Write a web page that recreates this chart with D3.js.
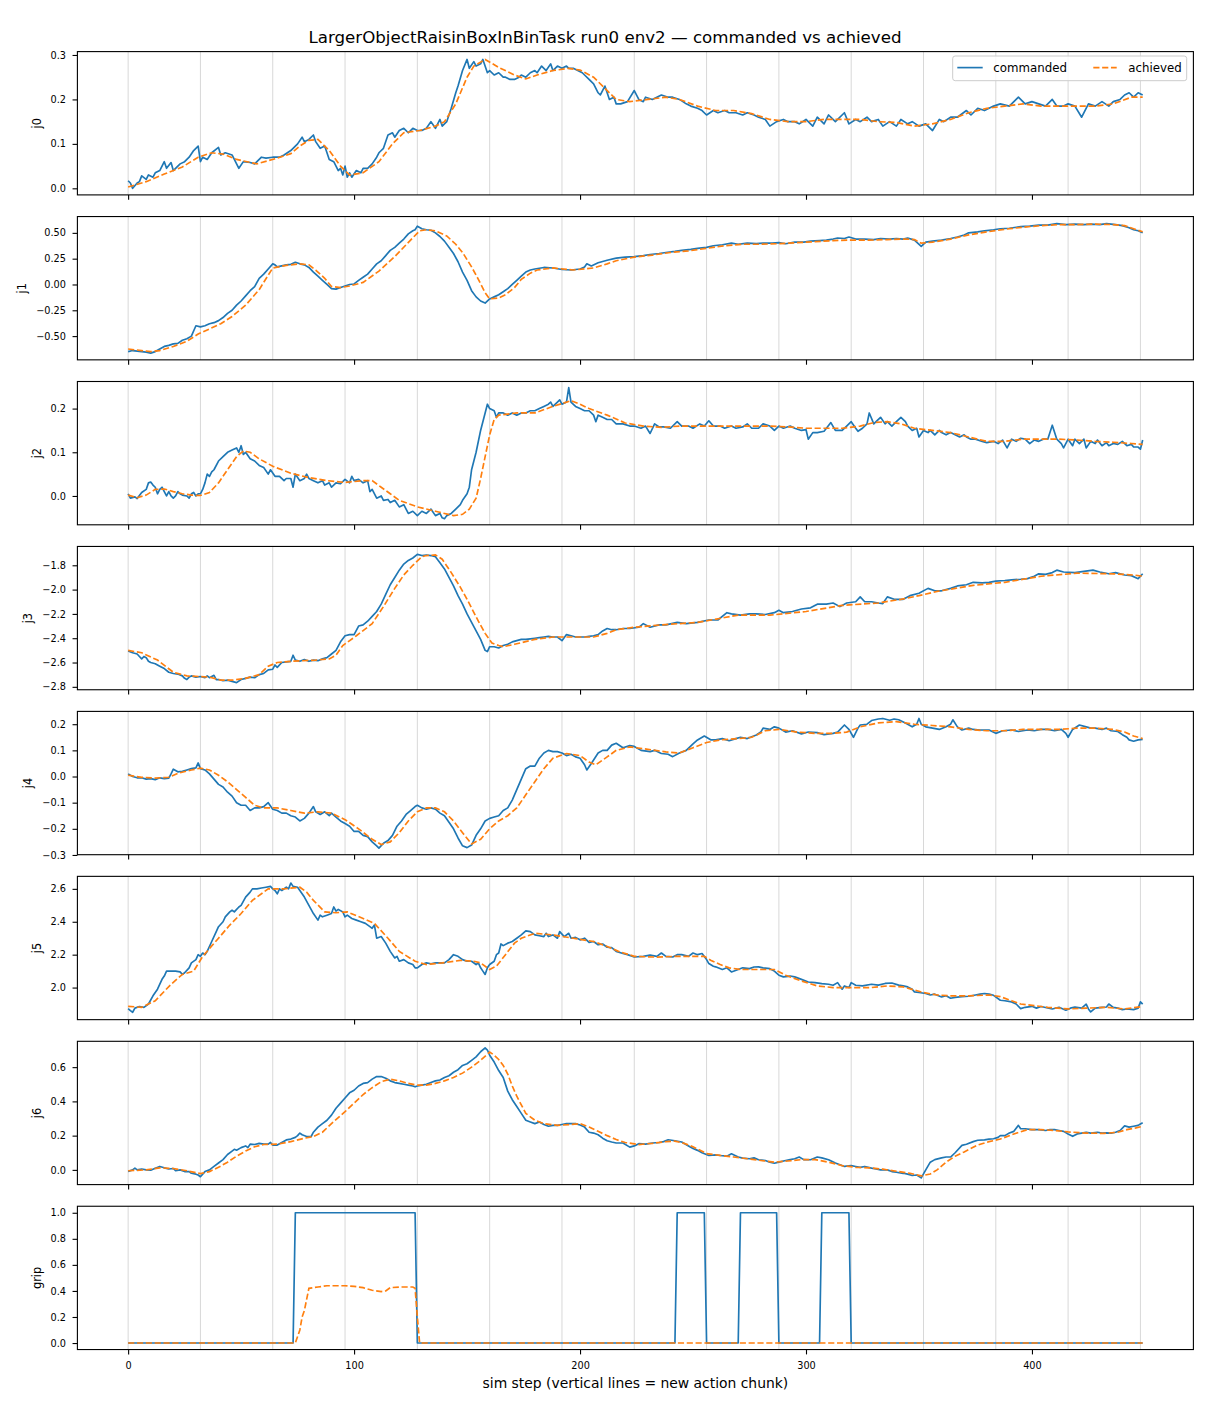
<!DOCTYPE html>
<html><head><meta charset="utf-8">
<script src="https://cdn.jsdelivr.net/npm/d3@7"></script>
<style>body{margin:0;background:#fff}svg{display:block}</style>
</head><body><svg id="c" width="1210" height="1408"></svg>
<script>
// ---------------- DATA ----------------
const titleText = "LargerObjectRaisinBoxInBinTask run0 env2 \u2014 commanded vs achieved";
const xLabelText = "sim step (vertical lines = new action chunk)";
const seriesNames = ["commanded", "achieved"];
const xLimits = [-22.45, 471.45];
const xTicks = [0, 100, 200, 300, 400];
const chunkSteps = [0, 32, 64, 96, 128, 160, 192, 224, 256, 288, 320, 352, 384, 416, 448];

const j0_cmd = [[0,0.017],[1,0.012],[2,0.0],[4,0.012],[5,0.015],[6,0.028],[8,0.02],[9,0.03],[11,0.025],[12,0.035],[14,0.04],[16,0.06],[17,0.045],[19,0.058],[20,0.04],[23,0.055],[25,0.06],[26,0.065],[27,0.07],[29,0.085],[31,0.095],[32,0.06],[33,0.07],[35,0.065],[37,0.08],[40,0.092],[41,0.075],[43,0.08],[46,0.075],[47,0.065],[49,0.045],[51,0.06],[54,0.058],[56,0.055],[59,0.07],[61,0.068],[64,0.07],[67,0.07],[69,0.075],[72,0.085],[75,0.1],[77,0.115],[78,0.105],[80,0.11],[82,0.12],[83,0.105],[85,0.09],[87,0.095],[89,0.065],[91,0.06],[93,0.04],[94,0.045],[95,0.03],[96,0.05],[97,0.025],[98,0.035],[99,0.025],[101,0.04],[103,0.035],[104,0.045],[106,0.045],[108,0.055],[110,0.07],[111,0.08],[113,0.09],[115,0.12],[117,0.125],[118,0.115],[120,0.13],[122,0.135],[124,0.125],[126,0.135],[128,0.13],[130,0.13],[132,0.135],[134,0.15],[136,0.135],[138,0.155],[139,0.14],[141,0.15],[143,0.18],[145,0.215],[146,0.23],[148,0.265],[150,0.29],[151,0.27],[153,0.285],[154,0.275],[156,0.28],[157,0.29],[159,0.26],[160,0.265],[162,0.255],[164,0.26],[166,0.25],[167,0.25],[169,0.245],[171,0.245],[173,0.25],[174,0.255],[176,0.25],[178,0.26],[180,0.265],[181,0.26],[183,0.275],[185,0.265],[187,0.28],[188,0.265],[190,0.275],[192,0.27],[194,0.275],[195,0.27],[197,0.27],[199,0.265],[201,0.26],[202,0.255],[204,0.245],[206,0.235],[208,0.215],[209,0.21],[211,0.23],[213,0.2],[215,0.205],[216,0.19],[218,0.19],[221,0.195],[224,0.22],[226,0.2],[228,0.195],[229,0.205],[232,0.2],[234,0.205],[236,0.21],[239,0.205],[241,0.205],[244,0.2],[247,0.19],[249,0.185],[252,0.18],[254,0.175],[256,0.165],[259,0.175],[261,0.17],[264,0.175],[266,0.17],[269,0.17],[272,0.165],[274,0.17],[277,0.165],[279,0.16],[282,0.155],[284,0.14],[287,0.15],[290,0.155],[292,0.15],[295,0.15],[297,0.145],[300,0.155],[303,0.14],[305,0.16],[308,0.145],[310,0.165],[313,0.15],[317,0.17],[319,0.145],[322,0.155],[324,0.15],[327,0.16],[329,0.15],[332,0.155],[334,0.14],[337,0.15],[340,0.14],[342,0.155],[345,0.145],[347,0.15],[350,0.14],[353,0.145],[356,0.13],[359,0.155],[361,0.15],[364,0.16],[367,0.16],[371,0.175],[373,0.165],[376,0.18],[379,0.175],[383,0.185],[386,0.19],[390,0.185],[394,0.205],[397,0.19],[400,0.195],[403,0.19],[406,0.185],[409,0.2],[411,0.185],[414,0.185],[416,0.19],[419,0.185],[422,0.16],[425,0.19],[428,0.185],[431,0.195],[434,0.185],[436,0.195],[439,0.2],[441,0.21],[443,0.215],[445,0.205],[447,0.215],[449,0.21]];
const j0_ach = [[0,0.003],[8,0.015],[16,0.032],[24,0.048],[31,0.07],[37,0.08],[42,0.077],[48,0.065],[57,0.055],[66,0.068],[72,0.078],[76,0.095],[80,0.108],[84,0.11],[89,0.085],[94,0.05],[98,0.03],[104,0.035],[111,0.06],[117,0.1],[122,0.125],[129,0.13],[136,0.14],[140,0.15],[145,0.19],[150,0.25],[153,0.275],[158,0.29],[164,0.272],[171,0.255],[176,0.246],[181,0.255],[188,0.265],[195,0.27],[200,0.266],[206,0.25],[211,0.225],[216,0.2],[222,0.195],[230,0.2],[238,0.205],[244,0.2],[252,0.185],[260,0.175],[268,0.175],[276,0.168],[284,0.155],[292,0.15],[300,0.15],[308,0.155],[316,0.155],[324,0.155],[332,0.15],[340,0.148],[348,0.14],[356,0.145],[364,0.155],[372,0.17],[380,0.18],[388,0.185],[396,0.19],[404,0.185],[412,0.185],[420,0.185],[428,0.185],[436,0.19],[444,0.205],[449,0.205]];

const j1_cmd = [[0,-0.65],[2,-0.64],[4,-0.645],[6,-0.65],[8,-0.655],[10,-0.665],[12,-0.65],[14,-0.625],[16,-0.6],[18,-0.59],[20,-0.575],[22,-0.57],[24,-0.54],[26,-0.525],[28,-0.5],[30,-0.4],[32,-0.41],[34,-0.4],[36,-0.38],[38,-0.37],[40,-0.35],[42,-0.32],[44,-0.28],[46,-0.25],[48,-0.2],[50,-0.16],[52,-0.11],[54,-0.06],[56,-0.02],[58,0.06],[60,0.1],[62,0.15],[64,0.2],[65,0.19],[66,0.17],[68,0.18],[70,0.19],[72,0.195],[74,0.215],[76,0.2],[78,0.19],[80,0.165],[82,0.12],[84,0.08],[86,0.04],[88,0.0],[90,-0.04],[92,-0.045],[94,-0.03],[96,-0.015],[98,0.0],[100,0.005],[102,0.04],[104,0.07],[106,0.1],[108,0.15],[110,0.2],[112,0.23],[114,0.28],[116,0.33],[118,0.36],[120,0.4],[122,0.44],[124,0.49],[126,0.52],[127,0.53],[128,0.565],[130,0.54],[132,0.53],[134,0.525],[136,0.5],[138,0.465],[140,0.42],[142,0.36],[144,0.3],[146,0.22],[148,0.12],[150,0.04],[152,-0.06],[154,-0.12],[156,-0.16],[158,-0.18],[160,-0.14],[162,-0.12],[164,-0.1],[166,-0.07],[168,-0.04],[170,0.0],[172,0.04],[174,0.08],[176,0.12],[178,0.14],[180,0.15],[184,0.165],[188,0.16],[192,0.145],[196,0.14],[200,0.15],[202,0.17],[203,0.2],[205,0.18],[208,0.21],[212,0.235],[216,0.255],[220,0.265],[224,0.27],[228,0.28],[231,0.29],[235,0.3],[238,0.31],[242,0.32],[245,0.33],[249,0.34],[252,0.35],[256,0.36],[259,0.375],[263,0.385],[267,0.4],[270,0.39],[274,0.4],[278,0.395],[281,0.4],[285,0.4],[288,0.405],[291,0.395],[295,0.41],[299,0.41],[302,0.42],[306,0.425],[309,0.43],[312,0.44],[314,0.45],[317,0.445],[319,0.46],[322,0.44],[326,0.44],[330,0.435],[333,0.445],[337,0.44],[340,0.445],[343,0.44],[345,0.45],[348,0.43],[351,0.37],[353,0.41],[356,0.42],[360,0.43],[364,0.445],[367,0.46],[370,0.48],[372,0.5],[376,0.51],[379,0.52],[383,0.53],[386,0.54],[390,0.545],[395,0.56],[399,0.565],[403,0.575],[407,0.575],[411,0.59],[415,0.58],[419,0.585],[423,0.58],[426,0.585],[430,0.58],[433,0.59],[437,0.58],[440,0.57],[443,0.55],[445,0.53],[447,0.52],[449,0.5]];
const j1_ach = [[0,-0.625],[6,-0.64],[10,-0.65],[14,-0.64],[20,-0.6],[26,-0.55],[31,-0.48],[36,-0.43],[41,-0.38],[46,-0.31],[52,-0.2],[58,-0.05],[64,0.16],[70,0.185],[76,0.2],[80,0.19],[83,0.14],[87,0.06],[90,-0.02],[94,-0.03],[98,-0.015],[104,0.02],[111,0.13],[118,0.27],[125,0.43],[129,0.52],[132,0.53],[136,0.52],[141,0.47],[145,0.39],[148,0.31],[152,0.17],[155,0.05],[158,-0.08],[160,-0.14],[164,-0.13],[167,-0.1],[171,-0.03],[174,0.05],[178,0.11],[181,0.14],[188,0.16],[197,0.14],[206,0.16],[212,0.2],[216,0.23],[224,0.265],[232,0.285],[240,0.31],[248,0.325],[256,0.35],[264,0.375],[272,0.39],[280,0.39],[288,0.395],[296,0.405],[304,0.415],[312,0.425],[320,0.43],[328,0.43],[336,0.435],[344,0.44],[348,0.435],[351,0.4],[356,0.41],[364,0.44],[372,0.48],[380,0.51],[388,0.535],[396,0.555],[404,0.57],[412,0.58],[420,0.58],[428,0.585],[436,0.58],[441,0.57],[445,0.54],[449,0.51]];

const j2_cmd = [[0,0.005],[1,-0.005],[3,-0.002],[4,-0.006],[6,0.008],[8,0.015],[9,0.03],[10,0.032],[11,0.025],[12,0.02],[13,0.005],[14,0.015],[15,0.02],[16,0.01],[17,0.0],[18,0.01],[19,0.0],[20,-0.005],[21,0.0],[22,0.01],[23,0.005],[24,0.002],[26,0.0],[27,-0.005],[28,0.005],[29,0.008],[30,0.0],[31,0.005],[32,0.005],[33,0.015],[34,0.03],[35,0.05],[36,0.045],[37,0.055],[38,0.06],[40,0.08],[42,0.09],[44,0.1],[46,0.105],[48,0.11],[49,0.1],[50,0.115],[51,0.095],[52,0.1],[54,0.085],[56,0.08],[58,0.07],[60,0.065],[62,0.05],[63,0.06],[65,0.045],[67,0.045],[69,0.035],[70,0.04],[72,0.04],[73,0.02],[74,0.05],[76,0.035],[78,0.04],[79,0.05],[80,0.04],[82,0.035],[84,0.03],[86,0.035],[87,0.025],[89,0.03],[90,0.02],[92,0.03],[94,0.028],[96,0.038],[98,0.03],[99,0.045],[100,0.035],[102,0.038],[104,0.03],[106,0.035],[107,0.01],[108,0.015],[110,-0.005],[112,0.0],[113,-0.01],[115,-0.008],[116,-0.015],[118,-0.01],[120,-0.025],[122,-0.02],[124,-0.04],[126,-0.035],[128,-0.045],[130,-0.035],[132,-0.04],[134,-0.03],[136,-0.045],[138,-0.04],[139,-0.05],[140,-0.052],[141,-0.045],[143,-0.04],[145,-0.03],[147,-0.02],[148,-0.01],[150,0.005],[151,0.02],[152,0.06],[153,0.08],[154,0.1],[156,0.15],[158,0.19],[159,0.21],[160,0.2],[162,0.195],[163,0.18],[164,0.19],[166,0.19],[168,0.185],[170,0.19],[172,0.185],[174,0.19],[176,0.19],[178,0.195],[180,0.195],[182,0.2],[184,0.205],[186,0.21],[187,0.215],[188,0.205],[190,0.215],[191,0.22],[192,0.21],[194,0.215],[195,0.248],[196,0.215],[198,0.205],[200,0.2],[202,0.195],[204,0.195],[206,0.185],[207,0.17],[208,0.185],[210,0.18],[212,0.175],[214,0.175],[216,0.165],[219,0.165],[222,0.16],[224,0.16],[227,0.155],[229,0.16],[231,0.143],[233,0.165],[235,0.158],[237,0.158],[240,0.155],[243,0.17],[245,0.16],[248,0.16],[250,0.155],[253,0.165],[255,0.16],[257,0.172],[259,0.16],[262,0.16],[264,0.155],[267,0.16],[269,0.155],[272,0.158],[274,0.165],[276,0.155],[279,0.155],[281,0.165],[284,0.16],[286,0.15],[288,0.16],[290,0.155],[293,0.16],[295,0.155],[298,0.15],[300,0.152],[301,0.13],[303,0.145],[305,0.145],[308,0.148],[311,0.168],[313,0.15],[316,0.15],[318,0.16],[320,0.17],[322,0.155],[323,0.148],[325,0.155],[327,0.165],[328,0.19],[330,0.165],[331,0.17],[333,0.18],[335,0.165],[336,0.17],[338,0.16],[340,0.17],[342,0.18],[344,0.17],[345,0.16],[347,0.15],[349,0.155],[350,0.135],[352,0.15],[354,0.145],[355,0.15],[357,0.14],[359,0.15],[360,0.145],[362,0.14],[364,0.145],[366,0.14],[368,0.135],[370,0.14],[371,0.135],[373,0.13],[375,0.13],[378,0.125],[380,0.122],[383,0.125],[385,0.12],[387,0.128],[389,0.11],[391,0.13],[393,0.125],[395,0.132],[397,0.13],[399,0.12],[401,0.128],[403,0.125],[405,0.13],[407,0.13],[409,0.162],[411,0.13],[413,0.12],[414,0.11],[416,0.13],[418,0.115],[419,0.13],[421,0.12],[423,0.13],[424,0.11],[426,0.125],[428,0.12],[429,0.128],[431,0.115],[433,0.122],[434,0.115],[436,0.12],[438,0.118],[440,0.125],[442,0.115],[444,0.118],[445,0.112],[447,0.112],[448,0.107],[449,0.128]];
const j2_ach = [[0,0.002],[4,-0.004],[8,0.002],[12,0.015],[16,0.016],[20,0.01],[24,0.005],[28,0.002],[32,0.001],[36,0.008],[40,0.03],[44,0.06],[48,0.09],[51,0.103],[54,0.1],[58,0.085],[64,0.068],[72,0.052],[80,0.042],[88,0.035],[96,0.031],[104,0.035],[108,0.035],[112,0.02],[116,0.005],[120,-0.01],[128,-0.025],[136,-0.035],[144,-0.045],[148,-0.042],[151,-0.03],[154,-0.005],[156,0.04],[158,0.09],[160,0.14],[162,0.175],[164,0.185],[172,0.19],[180,0.19],[188,0.205],[196,0.218],[200,0.21],[204,0.2],[212,0.185],[220,0.167],[228,0.16],[236,0.157],[244,0.16],[252,0.16],[260,0.16],[268,0.16],[276,0.16],[284,0.16],[292,0.158],[300,0.155],[308,0.155],[316,0.155],[324,0.16],[330,0.168],[336,0.17],[342,0.165],[348,0.155],[356,0.15],[364,0.145],[372,0.135],[380,0.125],[388,0.125],[396,0.13],[404,0.13],[412,0.13],[420,0.128],[428,0.125],[436,0.123],[444,0.12],[449,0.118]];

const j3_cmd = [[0,-2.505],[2,-2.52],[4,-2.53],[5,-2.55],[6,-2.57],[7,-2.55],[8,-2.56],[9,-2.59],[10,-2.6],[12,-2.61],[14,-2.63],[16,-2.65],[18,-2.68],[20,-2.69],[22,-2.695],[24,-2.71],[25,-2.73],[26,-2.74],[27,-2.72],[28,-2.71],[30,-2.72],[32,-2.715],[34,-2.725],[35,-2.71],[36,-2.725],[38,-2.705],[39,-2.74],[40,-2.74],[42,-2.75],[44,-2.745],[46,-2.755],[48,-2.765],[50,-2.74],[52,-2.73],[54,-2.72],[56,-2.725],[58,-2.7],[60,-2.69],[62,-2.66],[64,-2.655],[65,-2.62],[66,-2.64],[68,-2.6],[70,-2.595],[72,-2.59],[73,-2.54],[74,-2.58],[76,-2.59],[78,-2.575],[80,-2.59],[82,-2.58],[84,-2.585],[86,-2.57],[88,-2.56],[90,-2.53],[92,-2.5],[94,-2.43],[96,-2.38],[98,-2.37],[100,-2.37],[102,-2.3],[104,-2.29],[106,-2.26],[108,-2.22],[110,-2.18],[112,-2.12],[114,-2.04],[116,-1.96],[118,-1.9],[120,-1.84],[122,-1.79],[124,-1.76],[126,-1.74],[128,-1.71],[130,-1.72],[132,-1.715],[134,-1.72],[136,-1.73],[138,-1.78],[140,-1.83],[142,-1.9],[144,-1.97],[146,-2.05],[148,-2.12],[150,-2.2],[152,-2.27],[154,-2.34],[156,-2.41],[158,-2.5],[159,-2.51],[160,-2.47],[162,-2.47],[164,-2.48],[166,-2.46],[168,-2.45],[170,-2.43],[172,-2.42],[174,-2.41],[176,-2.41],[178,-2.405],[180,-2.4],[182,-2.395],[184,-2.39],[186,-2.385],[188,-2.39],[190,-2.39],[192,-2.42],[194,-2.37],[196,-2.38],[198,-2.39],[200,-2.39],[202,-2.39],[204,-2.385],[206,-2.38],[208,-2.37],[210,-2.34],[212,-2.32],[214,-2.33],[216,-2.33],[219,-2.32],[222,-2.32],[226,-2.31],[228,-2.28],[231,-2.31],[235,-2.29],[238,-2.29],[243,-2.27],[247,-2.28],[252,-2.27],[257,-2.25],[261,-2.25],[265,-2.19],[267,-2.2],[271,-2.21],[275,-2.2],[278,-2.2],[282,-2.205],[286,-2.19],[288,-2.17],[290,-2.19],[294,-2.18],[298,-2.16],[302,-2.15],[305,-2.12],[309,-2.12],[312,-2.11],[315,-2.14],[318,-2.11],[322,-2.1],[324,-2.06],[326,-2.1],[329,-2.1],[332,-2.11],[334,-2.115],[336,-2.06],[339,-2.08],[343,-2.08],[346,-2.05],[350,-2.03],[354,-1.99],[357,-2.01],[360,-2.01],[364,-1.99],[367,-1.97],[371,-1.96],[374,-1.94],[378,-1.945],[381,-1.94],[384,-1.93],[388,-1.925],[391,-1.92],[395,-1.915],[398,-1.91],[401,-1.89],[403,-1.87],[406,-1.875],[409,-1.86],[411,-1.84],[414,-1.855],[419,-1.86],[423,-1.85],[427,-1.84],[430,-1.855],[434,-1.87],[437,-1.86],[441,-1.88],[444,-1.885],[447,-1.91],[449,-1.87]];
const j3_ach = [[0,-2.5],[6,-2.52],[13,-2.58],[20,-2.68],[26,-2.71],[36,-2.72],[41,-2.745],[46,-2.745],[52,-2.73],[58,-2.7],[62,-2.63],[66,-2.6],[72,-2.59],[83,-2.58],[89,-2.57],[92,-2.54],[95,-2.46],[101,-2.38],[108,-2.28],[113,-2.14],[118,-1.99],[122,-1.88],[126,-1.8],[130,-1.73],[132,-1.72],[136,-1.715],[139,-1.75],[143,-1.86],[147,-1.98],[150,-2.08],[155,-2.26],[158,-2.36],[161,-2.44],[164,-2.46],[166,-2.47],[171,-2.45],[180,-2.41],[188,-2.39],[196,-2.39],[206,-2.39],[212,-2.36],[216,-2.33],[224,-2.31],[236,-2.29],[252,-2.27],[264,-2.23],[270,-2.21],[284,-2.21],[300,-2.18],[316,-2.13],[332,-2.11],[342,-2.08],[350,-2.05],[358,-2.015],[366,-1.99],[374,-1.965],[388,-1.94],[404,-1.89],[420,-1.865],[436,-1.87],[445,-1.88],[449,-1.89]];

const j4_cmd = [[0,0.01],[2,0.0],[4,-0.005],[6,-0.005],[8,-0.01],[10,-0.008],[12,-0.012],[14,-0.005],[16,-0.008],[18,-0.006],[19,0.01],[20,0.028],[22,0.018],[24,0.02],[26,0.025],[28,0.03],[30,0.033],[31,0.052],[32,0.03],[34,0.025],[36,0.01],[38,-0.01],[40,-0.03],[42,-0.04],[44,-0.06],[46,-0.075],[48,-0.1],[50,-0.11],[52,-0.11],[54,-0.13],[56,-0.12],[58,-0.12],[60,-0.115],[62,-0.1],[64,-0.125],[66,-0.13],[68,-0.14],[70,-0.14],[72,-0.15],[74,-0.155],[76,-0.17],[78,-0.16],[80,-0.14],[82,-0.115],[83,-0.135],[85,-0.145],[87,-0.135],[89,-0.15],[90,-0.14],[92,-0.155],[94,-0.17],[96,-0.18],[98,-0.19],[100,-0.21],[102,-0.21],[104,-0.225],[106,-0.23],[108,-0.25],[110,-0.265],[111,-0.274],[113,-0.255],[115,-0.245],[117,-0.225],[119,-0.19],[121,-0.17],[123,-0.145],[125,-0.13],[127,-0.115],[128,-0.11],[130,-0.12],[132,-0.125],[134,-0.12],[136,-0.125],[138,-0.14],[140,-0.15],[142,-0.175],[144,-0.2],[146,-0.235],[148,-0.265],[150,-0.272],[152,-0.262],[154,-0.225],[156,-0.2],[158,-0.17],[160,-0.16],[162,-0.155],[164,-0.15],[166,-0.13],[168,-0.12],[170,-0.09],[172,-0.05],[174,-0.01],[176,0.03],[178,0.04],[180,0.04],[182,0.07],[184,0.09],[186,0.1],[188,0.095],[190,0.095],[192,0.09],[194,0.08],[196,0.085],[198,0.075],[200,0.07],[202,0.045],[203,0.025],[205,0.05],[208,0.09],[210,0.1],[212,0.1],[214,0.12],[216,0.127],[219,0.11],[222,0.118],[224,0.115],[227,0.1],[231,0.095],[233,0.1],[236,0.088],[239,0.085],[241,0.076],[244,0.09],[247,0.1],[250,0.125],[252,0.14],[255,0.155],[258,0.14],[260,0.14],[263,0.145],[266,0.137],[269,0.145],[271,0.15],[274,0.145],[278,0.159],[280,0.17],[281,0.185],[284,0.18],[286,0.19],[288,0.185],[291,0.17],[294,0.175],[298,0.163],[301,0.17],[305,0.168],[308,0.16],[312,0.165],[314,0.17],[317,0.197],[319,0.18],[321,0.15],[323,0.185],[324,0.197],[327,0.2],[329,0.214],[332,0.22],[334,0.222],[337,0.215],[339,0.22],[341,0.217],[344,0.205],[347,0.19],[349,0.2],[350,0.222],[351,0.2],[353,0.19],[356,0.185],[359,0.18],[362,0.19],[364,0.2],[365,0.217],[367,0.19],[369,0.178],[372,0.185],[374,0.18],[377,0.178],[381,0.178],[384,0.165],[387,0.175],[391,0.178],[394,0.172],[398,0.178],[401,0.175],[404,0.18],[407,0.18],[410,0.175],[413,0.18],[415,0.165],[416,0.15],[418,0.18],[421,0.197],[424,0.19],[426,0.185],[428,0.185],[431,0.18],[433,0.185],[435,0.175],[438,0.172],[440,0.16],[442,0.15],[443,0.14],[445,0.135],[447,0.14],[449,0.142]];
const j4_ach = [[0,0.005],[6,-0.003],[12,-0.006],[18,-0.003],[22,0.012],[28,0.025],[32,0.032],[36,0.025],[40,0.005],[44,-0.02],[48,-0.05],[52,-0.08],[56,-0.11],[60,-0.12],[66,-0.12],[72,-0.13],[78,-0.14],[84,-0.135],[90,-0.14],[96,-0.165],[102,-0.2],[108,-0.24],[112,-0.26],[116,-0.25],[120,-0.215],[124,-0.17],[128,-0.135],[132,-0.12],[136,-0.12],[140,-0.135],[144,-0.17],[148,-0.215],[152,-0.258],[156,-0.24],[160,-0.2],[164,-0.17],[168,-0.15],[172,-0.12],[176,-0.07],[180,-0.02],[184,0.03],[188,0.07],[194,0.088],[200,0.08],[204,0.055],[207,0.045],[212,0.075],[216,0.1],[222,0.113],[230,0.104],[238,0.094],[244,0.09],[250,0.11],[256,0.13],[262,0.14],[270,0.145],[276,0.15],[282,0.175],[288,0.18],[296,0.17],[304,0.165],[312,0.165],[318,0.17],[324,0.19],[332,0.205],[340,0.21],[348,0.2],[356,0.195],[364,0.19],[372,0.18],[380,0.175],[388,0.175],[396,0.18],[404,0.18],[412,0.18],[420,0.185],[428,0.185],[436,0.18],[441,0.17],[445,0.155],[449,0.145]];

const j5_cmd = [[0,1.872],[1,1.86],[2,1.85],[3,1.875],[5,1.885],[7,1.88],[9,1.9],[11,1.95],[13,1.99],[15,2.05],[16,2.07],[17,2.1],[19,2.1],[21,2.1],[23,2.095],[24,2.08],[25,2.09],[27,2.12],[28,2.15],[30,2.17],[31,2.2],[32,2.19],[33,2.21],[34,2.2],[35,2.22],[37,2.28],[39,2.34],[40,2.37],[42,2.4],[43,2.43],[45,2.46],[46,2.47],[47,2.46],[49,2.49],[50,2.5],[52,2.55],[54,2.58],[55,2.6],[57,2.6],[59,2.605],[61,2.61],[63,2.615],[64,2.6],[65,2.59],[66,2.57],[67,2.6],[68,2.59],[70,2.61],[71,2.6],[72,2.635],[73,2.615],[75,2.61],[76,2.59],[78,2.55],[80,2.5],[82,2.45],[84,2.41],[85,2.44],[86,2.43],[88,2.44],[90,2.45],[91,2.49],[92,2.465],[93,2.475],[95,2.46],[96,2.43],[97,2.44],[99,2.42],[101,2.41],[103,2.4],[105,2.39],[107,2.37],[108,2.36],[109,2.38],[110,2.3],[112,2.31],[114,2.27],[116,2.22],[118,2.18],[119,2.19],[120,2.16],[122,2.17],[124,2.15],[126,2.14],[127,2.12],[128,2.12],[130,2.14],[132,2.15],[134,2.145],[136,2.15],[138,2.15],[140,2.15],[142,2.17],[144,2.2],[146,2.19],[148,2.17],[150,2.16],[152,2.16],[154,2.14],[155,2.15],[156,2.12],[157,2.1],[158,2.08],[159,2.12],[160,2.14],[162,2.16],[163,2.2],[164,2.21],[165,2.265],[166,2.255],[168,2.27],[170,2.28],[172,2.3],[174,2.32],[176,2.345],[178,2.34],[180,2.32],[182,2.315],[184,2.31],[185,2.33],[186,2.31],[188,2.32],[190,2.3],[191,2.34],[193,2.31],[195,2.33],[196,2.3],[198,2.305],[200,2.29],[202,2.3],[204,2.275],[206,2.28],[208,2.26],[210,2.265],[212,2.245],[214,2.243],[216,2.22],[219,2.207],[221,2.2],[224,2.186],[228,2.19],[231,2.197],[234,2.19],[236,2.21],[238,2.19],[241,2.186],[243,2.2],[245,2.2],[248,2.19],[250,2.21],[252,2.2],[254,2.207],[256,2.17],[257,2.146],[259,2.13],[260,2.126],[263,2.11],[265,2.12],[267,2.095],[270,2.11],[272,2.12],[275,2.115],[277,2.125],[279,2.126],[281,2.12],[284,2.115],[286,2.1],[288,2.075],[290,2.065],[293,2.07],[295,2.065],[298,2.05],[301,2.034],[304,2.03],[307,2.024],[310,2.02],[312,2.014],[314,2.03],[316,1.99],[317,2.01],[319,2.0],[320,2.03],[322,2.014],[325,2.01],[329,2.02],[332,2.015],[335,2.025],[338,2.028],[341,2.015],[343,2.01],[345,2.004],[347,1.99],[348,1.974],[350,1.97],[353,1.964],[355,1.955],[357,1.96],[360,1.943],[362,1.95],[364,1.935],[366,1.94],[369,1.945],[372,1.947],[375,1.955],[377,1.96],[379,1.964],[381,1.96],[383,1.953],[386,1.923],[388,1.92],[391,1.913],[393,1.9],[395,1.872],[397,1.88],[400,1.886],[402,1.875],[404,1.885],[407,1.876],[409,1.87],[412,1.88],[415,1.862],[417,1.875],[419,1.882],[422,1.875],[424,1.899],[425,1.87],[426,1.852],[428,1.875],[431,1.88],[433,1.882],[434,1.9],[436,1.88],[438,1.875],[440,1.866],[442,1.87],[445,1.866],[447,1.875],[448,1.913],[449,1.899]];
const j5_ach = [[0,1.886],[6,1.88],[12,1.92],[19,2.02],[24,2.08],[29,2.1],[33,2.19],[40,2.3],[45,2.38],[50,2.45],[55,2.53],[62,2.6],[69,2.6],[76,2.61],[79,2.58],[82,2.53],[87,2.46],[92,2.455],[97,2.46],[104,2.42],[109,2.39],[115,2.3],[120,2.22],[127,2.16],[132,2.14],[139,2.15],[147,2.165],[153,2.16],[156,2.15],[160,2.11],[163,2.13],[167,2.2],[171,2.27],[174,2.3],[180,2.33],[188,2.32],[197,2.3],[206,2.28],[212,2.25],[217,2.22],[224,2.19],[234,2.185],[243,2.19],[250,2.19],[255,2.19],[258,2.165],[262,2.14],[266,2.12],[271,2.11],[280,2.11],[286,2.11],[291,2.075],[298,2.04],[305,2.01],[312,2.0],[320,2.0],[329,2.0],[336,2.01],[343,2.004],[348,1.985],[352,1.97],[358,1.955],[364,1.95],[372,1.95],[381,1.955],[386,1.945],[391,1.92],[395,1.9],[401,1.89],[407,1.88],[416,1.87],[424,1.875],[433,1.88],[441,1.87],[449,1.885]];

const j6_cmd = [[0,-0.01],[2,0.0],[3,0.01],[4,0.0],[6,0.005],[8,0.0],[10,-0.002],[12,0.01],[14,0.02],[16,0.012],[18,0.005],[20,0.008],[21,-0.005],[23,0.0],[25,-0.01],[27,-0.01],[28,-0.02],[30,-0.025],[31,-0.03],[32,-0.04],[33,-0.025],[34,-0.01],[36,0.0],[38,0.02],[40,0.04],[42,0.06],[44,0.09],[46,0.11],[47,0.12],[48,0.115],[50,0.13],[52,0.14],[53,0.13],[54,0.15],[56,0.148],[58,0.155],[60,0.15],[62,0.15],[63,0.16],[64,0.145],[66,0.145],[68,0.16],[70,0.175],[72,0.18],[74,0.19],[75,0.2],[76,0.215],[77,0.205],[79,0.195],[81,0.195],[82,0.22],[84,0.25],[86,0.27],[88,0.29],[90,0.32],[92,0.36],[94,0.39],[96,0.42],[98,0.45],[100,0.465],[102,0.49],[104,0.505],[106,0.51],[108,0.53],[110,0.545],[112,0.545],[114,0.535],[116,0.52],[118,0.51],[120,0.505],[122,0.5],[124,0.495],[126,0.49],[127,0.485],[128,0.49],[130,0.495],[132,0.5],[134,0.51],[136,0.52],[138,0.525],[140,0.54],[142,0.55],[144,0.57],[146,0.585],[148,0.61],[150,0.62],[152,0.64],[154,0.66],[156,0.69],[158,0.712],[159,0.7],[160,0.67],[162,0.63],[164,0.58],[166,0.54],[168,0.46],[170,0.41],[172,0.37],[174,0.33],[176,0.29],[178,0.28],[180,0.27],[182,0.28],[184,0.265],[186,0.255],[188,0.26],[190,0.26],[192,0.265],[194,0.27],[196,0.27],[198,0.27],[200,0.262],[202,0.25],[204,0.22],[206,0.215],[208,0.205],[210,0.185],[212,0.17],[214,0.163],[216,0.157],[219,0.157],[222,0.133],[224,0.14],[226,0.153],[229,0.15],[232,0.157],[235,0.16],[237,0.165],[239,0.176],[242,0.17],[245,0.163],[248,0.14],[250,0.125],[252,0.114],[254,0.1],[257,0.084],[260,0.088],[262,0.084],[265,0.08],[267,0.094],[270,0.075],[272,0.069],[275,0.065],[277,0.07],[279,0.059],[282,0.055],[284,0.045],[286,0.039],[288,0.045],[291,0.055],[293,0.06],[295,0.065],[297,0.075],[299,0.06],[302,0.059],[305,0.075],[307,0.07],[310,0.059],[313,0.04],[315,0.03],[317,0.02],[320,0.025],[322,0.02],[324,0.015],[326,0.02],[329,0.01],[331,0.005],[333,0.0],[336,0.0],[338,-0.01],[340,-0.014],[343,-0.02],[345,-0.025],[347,-0.033],[349,-0.03],[351,-0.047],[353,0.0],[355,0.045],[357,0.06],[360,0.07],[362,0.075],[364,0.075],[366,0.1],[369,0.143],[371,0.15],[374,0.165],[376,0.173],[379,0.175],[381,0.18],[383,0.182],[385,0.19],[386,0.2],[388,0.2],[390,0.215],[392,0.225],[394,0.26],[395,0.24],[397,0.24],[400,0.235],[403,0.235],[406,0.23],[408,0.235],[410,0.235],[412,0.23],[414,0.225],[416,0.21],[418,0.196],[420,0.21],[422,0.215],[424,0.22],[426,0.215],[429,0.22],[431,0.215],[433,0.216],[435,0.215],[437,0.22],[439,0.23],[441,0.257],[443,0.25],[445,0.255],[447,0.26],[448,0.268],[449,0.275]];
const j6_ach = [[0,-0.005],[8,0.0],[14,0.012],[20,0.008],[26,-0.005],[32,-0.022],[36,-0.01],[40,0.015],[44,0.045],[48,0.08],[52,0.11],[56,0.135],[60,0.148],[66,0.15],[72,0.165],[78,0.185],[82,0.195],[86,0.22],[90,0.27],[96,0.34],[100,0.39],[104,0.44],[108,0.48],[112,0.515],[116,0.53],[120,0.52],[124,0.505],[128,0.495],[132,0.495],[136,0.505],[140,0.52],[144,0.54],[148,0.565],[152,0.6],[156,0.64],[160,0.688],[162,0.67],[164,0.645],[166,0.61],[168,0.56],[170,0.49],[172,0.43],[174,0.38],[176,0.33],[180,0.29],[184,0.27],[190,0.26],[196,0.265],[200,0.27],[204,0.25],[208,0.225],[212,0.2],[216,0.177],[220,0.16],[226,0.148],[232,0.155],[238,0.165],[242,0.168],[246,0.155],[250,0.135],[256,0.095],[262,0.085],[268,0.075],[274,0.065],[280,0.055],[286,0.045],[292,0.052],[298,0.06],[304,0.06],[310,0.045],[316,0.025],[322,0.015],[328,0.012],[334,0.004],[340,-0.008],[346,-0.02],[351,-0.035],[355,-0.024],[358,0.0],[362,0.045],[366,0.08],[370,0.105],[376,0.145],[381,0.165],[386,0.18],[392,0.21],[398,0.235],[404,0.235],[410,0.23],[416,0.222],[424,0.215],[432,0.213],[438,0.22],[442,0.235],[446,0.245],[449,0.255]];

const grip_cmd = [[0,0],[73,0],[74,1],[127,1],[128,0],[242,0],[243,1],[255,1],[256,0],[270,0],[271,1],[287,1],[288,0],[306,0],[307,1],[319,1],[320,0],[449,0]];
const grip_ach = [[0,0],[74,0],[76,0.1],[77,0.2],[78,0.25],[80,0.42],[84,0.43],[88,0.44],[96,0.44],[100,0.435],[104,0.425],[108,0.405],[112,0.395],[114,0.4],[116,0.425],[120,0.43],[126,0.43],[127,0.42],[128,0.2],[129,0],[449,0]];

const panelNames = ["j0","j1","j2","j3","j4","j5","j6","grip"];
const yLimits = [[-0.0148,0.3076],[-0.73,0.658],[-0.066,0.262],[-2.824,-1.645],[-0.299,0.249],[1.805,2.676],[-0.086,0.751],[-0.05,1.05]];
const yTickValues = [[0,0.1,0.2,0.3],[-0.5,-0.25,0,0.25,0.5],[0,0.1,0.2],[-2.8,-2.6,-2.4,-2.2,-2.0,-1.8],[-0.3,-0.2,-0.1,0,0.1,0.2],[2.0,2.2,2.4,2.6],[0,0.2,0.4,0.6],[0,0.2,0.4,0.6,0.8,1.0]];
const yTickLabels = [["0.0","0.1","0.2","0.3"],["\u22120.50","\u22120.25","0.00","0.25","0.50"],["0.0","0.1","0.2"],["\u22122.8","\u22122.6","\u22122.4","\u22122.2","\u22122.0","\u22121.8"],["\u22120.3","\u22120.2","\u22120.1","0.0","0.1","0.2"],["2.0","2.2","2.4","2.6"],["0.0","0.2","0.4","0.6"],["0.0","0.2","0.4","0.6","0.8","1.0"]];
const commandedSeries = [j0_cmd,j1_cmd,j2_cmd,j3_cmd,j4_cmd,j5_cmd,j6_cmd,grip_cmd];
const achievedSeries = [j0_ach,j1_ach,j2_ach,j3_ach,j4_ach,j5_ach,j6_ach,grip_ach];

// ---------------- LAYOUT / STYLE ----------------
const FONT = "'DejaVu Sans', sans-serif";
const W = 1210, H = 1408;
const L = 77.4, R = 1193.4, T0 = 51.6, PSTEP = 164.95, PH = 143.3;
const C0 = "#1f77b4", C1 = "#ff7f0e";
const LW = 1.67;

const svg = d3.select("#c");
svg.append("rect").attr("width", W).attr("height", H).attr("fill", "#fff");

const x = d3.scaleLinear().domain(xLimits).range([L, R]);

svg.append("text").attr("x", 605).attr("y", 42.5).attr("text-anchor", "middle")
  .attr("font-family", FONT).attr("font-size", 16.67).attr("fill", "#000").text(titleText);

panelNames.forEach((name, i) => {
  const top = T0 + i * PSTEP, bot = top + PH;
  const y = d3.scaleLinear().domain(yLimits[i]).range([bot, top]);
  const g = svg.append("g");

  g.append("g").selectAll("line").data(chunkSteps).join("line")
    .attr("x1", d => x(d)).attr("x2", d => x(d)).attr("y1", top).attr("y2", bot)
    .attr("stroke", "#d8d8d8").attr("stroke-width", 1);

  const line = d3.line().x(d => x(d[0])).y(d => y(d[1]));
  g.append("path").attr("d", line(commandedSeries[i])).attr("fill", "none")
    .attr("stroke", C0).attr("stroke-width", LW).attr("stroke-linejoin", "round");
  g.append("path").attr("d", line(achievedSeries[i])).attr("fill", "none")
    .attr("stroke", C1).attr("stroke-width", LW).attr("stroke-dasharray", "6.17,2.67");

  const ya = g.append("g").attr("transform", `translate(${L},0)`)
    .call(d3.axisLeft(y).tickValues(yTickValues[i]).tickFormat((d, k) => yTickLabels[i][k]).tickSize(4.86).tickPadding(6.6));
  ya.select(".domain").remove();
  ya.attr("font-family", FONT).attr("font-size", 9.72);
  ya.selectAll("text").attr("fill", "#000");
  ya.selectAll("line").attr("stroke", "#000").attr("stroke-width", 1.1);

  const isLast = i === panelNames.length - 1;
  const xa = g.append("g").attr("transform", `translate(0,${bot})`)
    .call(d3.axisBottom(x).tickValues(xTicks).tickSize(4.86).tickPadding(6.6).tickFormat(isLast ? d3.format("d") : () => ""));
  xa.select(".domain").remove();
  xa.attr("font-family", FONT).attr("font-size", 9.72);
  xa.selectAll("text").attr("fill", "#000").attr("dy", null).attr("y", 19);
  xa.selectAll("line").attr("stroke", "#000").attr("stroke-width", 1.1);

  g.append("rect").attr("x", L).attr("y", top).attr("width", R - L).attr("height", PH)
    .attr("fill", "none").attr("stroke", "#000").attr("stroke-width", 1.1);

  let minX = L;
  ya.selectAll("text").each(function () { const b = this.getBBox(); minX = Math.min(minX, L + b.x); });
  const lx = minX - 9.9, ly = top + PH / 2;
  g.append("text").attr("transform", `translate(${lx},${ly}) rotate(-90)`).attr("text-anchor", "middle")
    .attr("font-family", FONT).attr("font-size", 11.4).attr("fill", "#000").text(name);

  if (i === 0) {
    const lg = g.append("g").attr("transform", `translate(${R - 6.7 - 234},${top + 4.4})`);
    lg.append("rect").attr("x", 0).attr("y", 0).attr("width", 234).attr("height", 24.7).attr("rx", 2.5)
      .attr("fill", "#fff").attr("fill-opacity", 0.8).attr("stroke", "#cccccc").attr("stroke-width", 1);
    lg.append("line").attr("x1", 4.6).attr("x2", 30).attr("y1", 11.6).attr("y2", 11.6).attr("stroke", C0).attr("stroke-width", LW);
    lg.append("text").attr("x", 40.6).attr("y", 16).attr("font-family", FONT).attr("font-size", 11.8).attr("fill", "#000").text(seriesNames[0]);
    lg.append("line").attr("x1", 140.6).attr("x2", 164).attr("y1", 11.6).attr("y2", 11.6).attr("stroke", C1).attr("stroke-width", LW).attr("stroke-dasharray", "6.17,2.67");
    lg.append("text").attr("x", 175.6).attr("y", 16).attr("font-family", FONT).attr("font-size", 11.8).attr("fill", "#000").text(seriesNames[1]);
  }
});

svg.append("text").attr("x", (L + R) / 2).attr("y", 1387.5).attr("text-anchor", "middle")
  .attr("font-family", FONT).attr("font-size", 13.9).attr("fill", "#000").text(xLabelText);
</script></body></html>
